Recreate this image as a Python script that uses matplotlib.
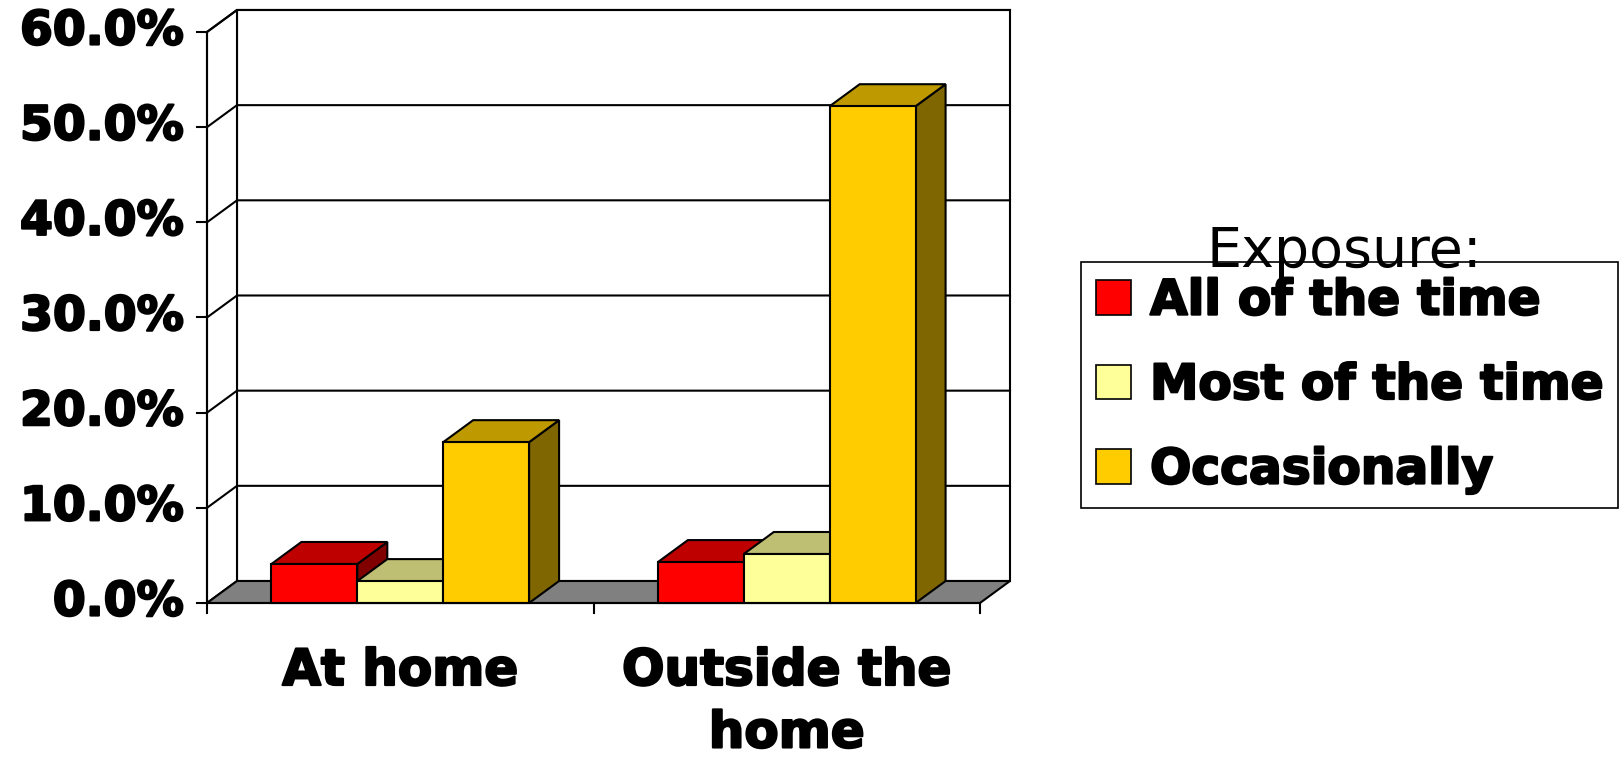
import matplotlib.pyplot as plt
import matplotlib.patheffects as pe
from matplotlib.patches import Polygon, Patch

# data (percent)
categories = ["At home", "Outside the\nhome"]
series = ["All of the time", "Most of the time", "Occasionally"]
all_of_time = [4.1, 4.3]
most_of_time = [2.3, 5.15]
occasionally = [16.9, 52.2]
yticks = [0, 10, 20, 30, 40, 50, 60]
ytick_labels = ["0.0%", "10.0%", "20.0%", "30.0%", "40.0%", "50.0%", "60.0%"]

values = [all_of_time, most_of_time, occasionally]
front_colors = ["#FF0000", "#FFFF99", "#FFCC00"]
top_colors = ["#BF0000", "#BFBF73", "#BF9900"]
side_colors = ["#800000", "#80804D", "#806600"]

W, H = 1622, 761
fig = plt.figure(figsize=(W / 100, H / 100), dpi=100)
ax = fig.add_axes([0, 0, 1, 1])
ax.axis("off")

# map data units to the picture: pixels per category / per percent
px_x = 386.5
px_y = 9.517
x0_px, y0_px = 207, H - 603
ax.set_xlim(-0.5 - x0_px / px_x, -0.5 + (W - x0_px) / px_x)
ax.set_ylim(-y0_px / px_y, (H - y0_px) / px_y)
DX = 30 / px_x   # depth offset
DY = 22 / px_y

left, right, top = -0.5, len(categories) - 0.5, yticks[-1]
lw = 1.5
heavy = [pe.withStroke(linewidth=1.6, foreground="black")]

# back wall and left wall
ax.add_patch(Polygon([(left + DX, DY), (right + DX, DY), (right + DX, top + DY), (left + DX, top + DY)],
                     facecolor="white", edgecolor="black", lw=lw, zorder=1))
ax.add_patch(Polygon([(left, 0), (left + DX, DY), (left + DX, top + DY), (left, top)],
                     facecolor="white", edgecolor="black", lw=lw, zorder=1))
for t in yticks[1:]:
    ax.plot([left, left + DX, right + DX], [t, t + DY, t + DY], color="black", lw=lw, zorder=2)

# floor
ax.add_patch(Polygon([(left, 0), (right, 0), (right + DX, DY), (left + DX, DY)],
                     facecolor="#808080", edgecolor="black", lw=lw, zorder=3))

# bars
gap = 1.5
w = 1 / (len(series) + gap)
z = 4
for g in range(len(categories)):
    for k in range(len(series)):
        v = values[k][g]
        xl = g - len(series) * w / 2 + k * w
        xr = xl + w
        ax.add_patch(Polygon([(xr, 0), (xr + DX, DY), (xr + DX, v + DY), (xr, v)],
                             facecolor=side_colors[k], edgecolor="black", lw=lw, zorder=z))
        ax.add_patch(Polygon([(xl, v), (xr, v), (xr + DX, v + DY), (xl + DX, v + DY)],
                             facecolor=top_colors[k], edgecolor="black", lw=lw, zorder=z))
        ax.add_patch(Polygon([(xl, 0), (xr, 0), (xr, v), (xl, v)],
                             facecolor=front_colors[k], edgecolor="black", lw=lw, zorder=z + 1))
        z += 2

# axes lines and ticks
ax.plot([left, left], [0, top], color="black", lw=lw, zorder=z)
ax.plot([left, right], [0, 0], color="black", lw=lw, zorder=z)
for t, lab in zip(yticks, ytick_labels):
    ax.plot([left - 10 / px_x, left], [t, t], color="black", lw=lw, zorder=z)
    ax.annotate(lab, xy=(left, t), xytext=(-23, 0), textcoords="offset pixels",
                ha="right", va="center", fontsize=34, fontweight="bold", family="DejaVu Sans",
                path_effects=heavy)
for xt in range(len(categories) + 1):
    ax.plot([xt - 0.5, xt - 0.5], [0, -10 / px_y], color="black", lw=lw, zorder=z)
for g, cat in enumerate(categories):
    ax.annotate(cat, xy=(g, 0), xytext=(0, -44), textcoords="offset pixels",
                ha="center", va="top", fontsize=36, fontweight="bold",
                family="DejaVu Sans", linespacing=1.38, path_effects=heavy)

# legend
handles = [Patch(facecolor=c, edgecolor="black", lw=1.2) for c in front_colors]
leg = ax.legend(handles, series, loc="upper left",
                bbox_to_anchor=(1081 / W, 1 - 262 / H, 537 / W, 0), bbox_transform=fig.transFigure,
                mode="expand", frameon=True, fancybox=False, edgecolor="black", framealpha=1,
                prop=dict(weight="bold", size=35, family="DejaVu Sans"),
                handlelength=0.72, handleheight=0.72, handletextpad=0.4,
                labelspacing=0.75, borderpad=0.3, borderaxespad=0)
leg.get_frame().set_linewidth(1.2)
for txt in leg.get_texts():
    txt.set_path_effects(heavy)
fig.text(1344 / W, 1 - 252 / H, "Exposure:", ha="center", va="center", fontsize=40,
         family="DejaVu Sans", zorder=10)

fig.savefig("out.png", dpi=100)
